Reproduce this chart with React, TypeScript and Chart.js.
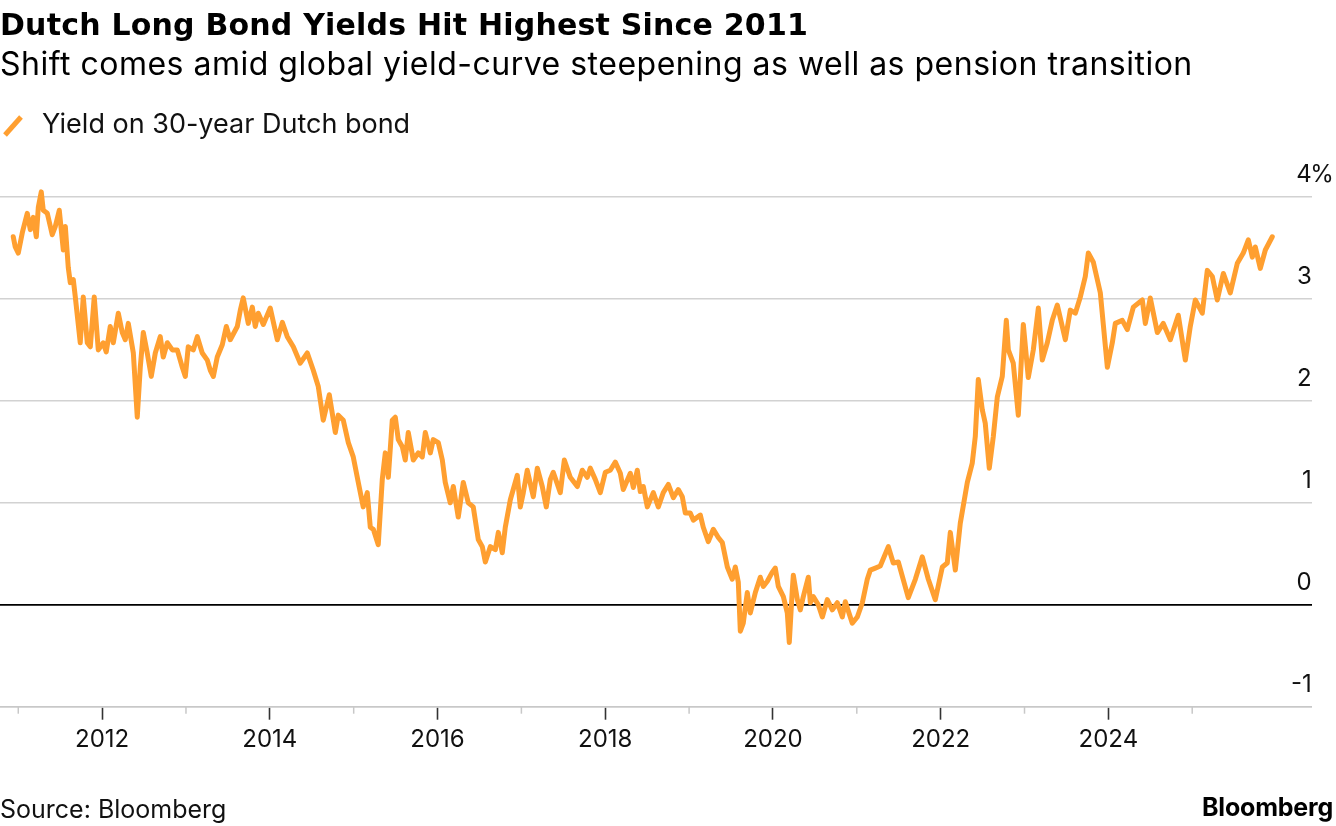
import React, { useEffect, useRef } from "react";
import { Chart, registerables } from "chart.js";

Chart.register(...registerables);

const TITLE = "Dutch Long Bond Yields Hit Highest Since 2011";
const SUBTITLE = "Shift comes amid global yield-curve steepening as well as pension transition";
const SERIES_LABEL = "Yield on 30-year Dutch bond";
const SOURCE = "Source: Bloomberg";
const BRAND = "Bloomberg";

const FONT = "Inter, 'Liberation Sans', Arial, sans-serif";
const TITLE_FONT = "'DejaVu Sans', Inter, sans-serif";
const ORANGE = "#FF9F30";

// Year ticks (odd years unlabeled minor ticks)
const YEAR_TICKS = [2011, 2012, 2013, 2014, 2015, 2016, 2017, 2018, 2019, 2020, 2021, 2022, 2023, 2024, 2025];
const LABELED_YEARS = [2012, 2014, 2016, 2018, 2020, 2022, 2024];
const Y_TICKS = [-1, 0, 1, 2, 3, 4];
const X_MIN = 2010.782;
const X_MAX = 2026.425;
const Y_MIN = -1;
const Y_MAX = 4.2;

// Dates as decimal years
const DATES = [
  2010.940, 2010.964, 2011.000, 2011.048, 2011.107, 2011.143, 2011.179, 2011.215, 2011.239, 2011.274, 2011.298, 2011.346, 2011.405, 2011.441, 2011.489, 2011.537, 2011.561, 2011.596, 2011.620, 2011.656, 2011.680, 2011.739, 2011.775, 2011.823, 2011.859, 2011.906, 2011.954,
  2012.014, 2012.049, 2012.097, 2012.133, 2012.193, 2012.240, 2012.276, 2012.312, 2012.372, 2012.419, 2012.455, 2012.491, 2012.538, 2012.586, 2012.634, 2012.693, 2012.729, 2012.777, 2012.837, 2012.896, 2012.956, 2012.992,
  2013.027, 2013.087, 2013.135, 2013.194, 2013.254, 2013.290, 2013.326, 2013.373, 2013.433, 2013.481, 2013.528, 2013.612, 2013.648, 2013.683, 2013.743, 2013.791, 2013.826, 2013.862, 2013.922,
  2014.005, 2014.089, 2014.149, 2014.208, 2014.280, 2014.363, 2014.447, 2014.518, 2014.578, 2014.637, 2014.709, 2014.781, 2014.816, 2014.876, 2014.936, 2014.995,
  2015.055, 2015.114, 2015.162, 2015.198, 2015.234, 2015.293, 2015.341, 2015.377, 2015.413, 2015.460, 2015.496, 2015.532, 2015.580, 2015.615, 2015.651, 2015.711, 2015.770, 2015.818, 2015.854, 2015.914, 2015.949,
  2016.009, 2016.057, 2016.092, 2016.152, 2016.188, 2016.247, 2016.307, 2016.367, 2016.426, 2016.486, 2016.534, 2016.570, 2016.629, 2016.689, 2016.725, 2016.772, 2016.808, 2016.868, 2016.951, 2016.987,
  2017.023, 2017.070, 2017.142, 2017.190, 2017.249, 2017.297, 2017.345, 2017.380, 2017.464, 2017.512, 2017.583, 2017.667, 2017.726, 2017.786, 2017.822, 2017.881, 2017.941,
  2018.001, 2018.060, 2018.120, 2018.180, 2018.215, 2018.299, 2018.335, 2018.382, 2018.418, 2018.454, 2018.502, 2018.573, 2018.633, 2018.692, 2018.752, 2018.812, 2018.871, 2018.919, 2018.955,
  2019.014, 2019.050, 2019.134, 2019.169, 2019.229, 2019.289, 2019.348, 2019.396, 2019.456, 2019.515, 2019.551, 2019.587, 2019.611, 2019.646, 2019.694, 2019.730, 2019.790, 2019.849, 2019.885, 2019.933, 2019.992,
  2020.028, 2020.064, 2020.124, 2020.171, 2020.195, 2020.231, 2020.243, 2020.291, 2020.326, 2020.362, 2020.422, 2020.446, 2020.481, 2020.541, 2020.589, 2020.648, 2020.708, 2020.768, 2020.827, 2020.863, 2020.946,
  2021.006, 2021.066, 2021.125, 2021.161, 2021.221, 2021.280, 2021.376, 2021.435, 2021.495, 2021.614, 2021.698, 2021.781, 2021.853, 2021.936,
  2022.020, 2022.079, 2022.115, 2022.175, 2022.234, 2022.318, 2022.377, 2022.413, 2022.449, 2022.497, 2022.532, 2022.580, 2022.628, 2022.676, 2022.735, 2022.783, 2022.807, 2022.866, 2022.926, 2022.986,
  2023.045, 2023.105, 2023.165, 2023.212, 2023.272, 2023.331, 2023.391, 2023.487, 2023.546, 2023.606, 2023.666, 2023.725, 2023.761, 2023.821, 2023.904, 2023.988,
  2024.047, 2024.083, 2024.166, 2024.226, 2024.298, 2024.405, 2024.441, 2024.500, 2024.584, 2024.655, 2024.739, 2024.834, 2024.918, 2024.977,
  2025.037, 2025.120, 2025.180, 2025.240, 2025.299, 2025.371, 2025.454, 2025.538, 2025.609, 2025.669, 2025.717, 2025.752, 2025.812, 2025.872, 2025.955,
];

// Yield on 30-year Dutch bond, %
const YIELDS = [
  3.61, 3.51, 3.45, 3.65, 3.84, 3.68, 3.80, 3.61, 3.90, 4.05, 3.87, 3.84, 3.63, 3.71, 3.87, 3.48, 3.71, 3.31, 3.16, 3.19, 3.02, 2.57, 3.02, 2.57, 2.53, 3.02, 2.50,
  2.57, 2.48, 2.73, 2.57, 2.86, 2.67, 2.60, 2.76, 2.47, 1.84, 2.33, 2.67, 2.47, 2.24, 2.47, 2.63, 2.43, 2.57, 2.50, 2.50, 2.33, 2.24,
  2.53, 2.50, 2.63, 2.47, 2.40, 2.30, 2.24, 2.43, 2.55, 2.73, 2.60, 2.73, 2.89, 3.01, 2.76, 2.92, 2.73, 2.86, 2.75,
  2.91, 2.60, 2.77, 2.63, 2.53, 2.37, 2.47, 2.30, 2.14, 1.81, 2.06, 1.69, 1.86, 1.81, 1.59, 1.45,
  1.20, 0.96, 1.10, 0.76, 0.74, 0.59, 1.23, 1.49, 1.25, 1.81, 1.84, 1.62, 1.55, 1.42, 1.69, 1.42, 1.49, 1.45, 1.69, 1.49, 1.62,
  1.59, 1.42, 1.20, 1.00, 1.16, 0.86, 1.20, 1.00, 0.96, 0.64, 0.57, 0.42, 0.57, 0.54, 0.71, 0.51, 0.76, 1.03, 1.27, 0.96,
  1.10, 1.32, 1.06, 1.34, 1.16, 0.96, 1.23, 1.30, 1.10, 1.42, 1.25, 1.16, 1.32, 1.25, 1.34, 1.23, 1.10,
  1.30, 1.32, 1.40, 1.29, 1.13, 1.29, 1.15, 1.32, 1.11, 1.16, 0.96, 1.10, 0.96, 1.10, 1.18, 1.05, 1.13, 1.06, 0.90,
  0.90, 0.83, 0.88, 0.76, 0.62, 0.74, 0.66, 0.61, 0.37, 0.25, 0.37, 0.22, -0.26, -0.18, 0.12, -0.08, 0.12, 0.27, 0.18, 0.23, 0.32,
  0.36, 0.18, 0.08, -0.08, -0.37, 0.15, 0.29, 0.05, -0.05, 0.08, 0.27, 0.02, 0.08, 0.00, -0.12, 0.05, -0.05, 0.02, -0.12, 0.03, -0.18,
  -0.12, 0.02, 0.25, 0.34, 0.36, 0.38, 0.57, 0.41, 0.42, 0.07, 0.25, 0.47, 0.25, 0.05,
  0.37, 0.41, 0.71, 0.34, 0.80, 1.20, 1.39, 1.65, 2.21, 1.91, 1.78, 1.34, 1.65, 2.04, 2.24, 2.79, 2.50, 2.37, 1.86, 2.75,
  2.23, 2.50, 2.91, 2.40, 2.57, 2.79, 2.94, 2.60, 2.89, 2.86, 3.02, 3.22, 3.45, 3.36, 3.06, 2.33,
  2.57, 2.76, 2.79, 2.70, 2.92, 2.99, 2.76, 3.01, 2.67, 2.76, 2.60, 2.84, 2.40, 2.73,
  2.99, 2.86, 3.28, 3.22, 2.99, 3.25, 3.06, 3.35, 3.45, 3.58, 3.41, 3.51, 3.30, 3.48, 3.61,
];

const W = 1336;
const H = 826;

const extrasPlugin = {
  id: "extras",
  afterDraw(chart: any) {
    const { ctx, chartArea } = chart;
    const xs = chart.scales.x;
    const ys = chart.scales.y;
    ctx.save();
    // minor (unlabeled) year ticks
    ctx.strokeStyle = "#c8c8c8";
    ctx.lineWidth = 1.5;
    YEAR_TICKS.filter((yr) => !LABELED_YEARS.includes(yr)).forEach((yr) => {
      const px = xs.getPixelForValue(yr);
      ctx.beginPath();
      ctx.moveTo(px, chartArea.bottom);
      ctx.lineTo(px, chartArea.bottom + 7);
      ctx.stroke();
    });
    // percent sign after top y label
    const top = Y_TICKS[Y_TICKS.length - 1];
    ctx.fillStyle = "#111";
    ctx.font = `24px ${FONT}`;
    ctx.textAlign = "left";
    ctx.textBaseline = "middle";
    ctx.fillText("%", chartArea.right - 1.5, ys.getPixelForValue(top) - 22);
    ctx.restore();
  },
};

export default function App() {
  const canvasRef = useRef<HTMLCanvasElement | null>(null);

  useEffect(() => {
    const canvas = canvasRef.current;
    if (!canvas) return;
    const points = DATES.map((d, i) => ({ x: d, y: YIELDS[i] }));
    const chart = new Chart(canvas, {
      type: "line",
      data: {
        datasets: [
          {
            label: SERIES_LABEL,
            data: points,
            borderColor: ORANGE,
            borderWidth: 5,
            pointRadius: 0,
            tension: 0,
            borderJoinStyle: "round",
            borderCapStyle: "round",
            fill: false,
          },
        ],
      },
      options: {
        animation: false,
        responsive: false,
        maintainAspectRatio: false,
        devicePixelRatio: 1,
        layout: { padding: { top: 176.6, left: 0, right: 0, bottom: 0 } },
        plugins: {
          legend: { display: false },
          tooltip: { enabled: false },
          title: { display: false },
        },
        scales: {
          x: {
            type: "linear",
            min: X_MIN,
            max: X_MAX,
            afterBuildTicks: (scale: any) => {
              scale.ticks = YEAR_TICKS.map((v) => ({ value: v }));
            },
            afterFit: (scale: any) => {
              scale.height = H - 706.7;
            },
            grid: {
              drawOnChartArea: false,
              drawTicks: true,
              tickLength: 13,
              tickWidth: 1.6,
              tickColor: (ctx: any) =>
                ctx.tick && LABELED_YEARS.includes(ctx.tick.value) ? "#333" : "rgba(0,0,0,0)",
            },
            border: { display: true, color: "#c8c8c8", width: 1.5 },
            ticks: {
              autoSkip: false,
              maxRotation: 0,
              padding: 6,
              color: "#111",
              font: { family: FONT, size: 24 },
              callback: (v: any) => (LABELED_YEARS.includes(Number(v)) ? String(v) : ""),
            },
          },
          y: {
            type: "linear",
            position: "right",
            min: Y_MIN,
            max: Y_MAX,
            afterBuildTicks: (scale: any) => {
              scale.ticks = Y_TICKS.map((v) => ({ value: v }));
            },
            afterFit: (scale: any) => {
              scale.width = W - 1311.7;
            },
            grid: {
              drawTicks: false,
              lineWidth: (ctx: any) => (ctx.tick && ctx.tick.value === 0 ? 1.8 : 1.5),
              color: (ctx: any) => (ctx.tick && ctx.tick.value === 0 ? "#000" : "#d2d2d2"),
            },
            border: { display: false },
            ticks: {
              mirror: true,
              padding: 0,
              labelOffset: -22,
              color: "#111",
              font: { family: FONT, size: 24 },
              callback: (v: any) => String(v),
            },
          },
        },
      },
      plugins: [extrasPlugin],
    });
    return () => chart.destroy();
  }, []);

  return (
    <div
      style={{
        position: "fixed",
        left: 0,
        top: 0,
        width: W,
        height: H,
        background: "#fff",
        fontFamily: FONT,
        color: "#000",
        overflow: "hidden",
      }}
    >
      <canvas
        ref={canvasRef}
        width={W}
        height={H}
        style={{ position: "absolute", left: 0, top: 0, width: W, height: H }}
      />
      <div
        style={{
          position: "absolute",
          left: 0,
          top: 10,
          fontFamily: TITLE_FONT,
          fontSize: 30,
          lineHeight: "30px",
          fontWeight: 700,
          whiteSpace: "nowrap",
          letterSpacing: 0.2,
        }}
      >
        {TITLE}
      </div>
      <div
        style={{
          position: "absolute",
          left: 0,
          top: 48,
          fontSize: 32,
          lineHeight: "32px",
          fontWeight: 400,
          whiteSpace: "nowrap",
          letterSpacing: 0.5,
        }}
      >
        {SUBTITLE}
      </div>
      <svg
        width={28}
        height={28}
        style={{ position: "absolute", left: 0, top: 112 }}
      >
        <line x1={5} y1={23} x2={21} y2={5} stroke={ORANGE} strokeWidth={5} />
      </svg>
      <div
        style={{
          position: "absolute",
          left: 42,
          top: 110,
          fontSize: 27,
          lineHeight: "27px",
          whiteSpace: "nowrap",
          color: "#111",
        }}
      >
        {SERIES_LABEL}
      </div>
      <div
        style={{
          position: "absolute",
          left: 0,
          top: 797,
          fontSize: 25,
          lineHeight: "25px",
          whiteSpace: "nowrap",
          color: "#111",
        }}
      >
        {SOURCE}
      </div>
      <div
        style={{
          position: "absolute",
          right: 3,
          top: 795,
          fontSize: 25,
          lineHeight: "25px",
          fontWeight: 700,
          whiteSpace: "nowrap",
          color: "#000",
          letterSpacing: -0.2,
        }}
      >
        {BRAND}
      </div>
    </div>
  );
}
